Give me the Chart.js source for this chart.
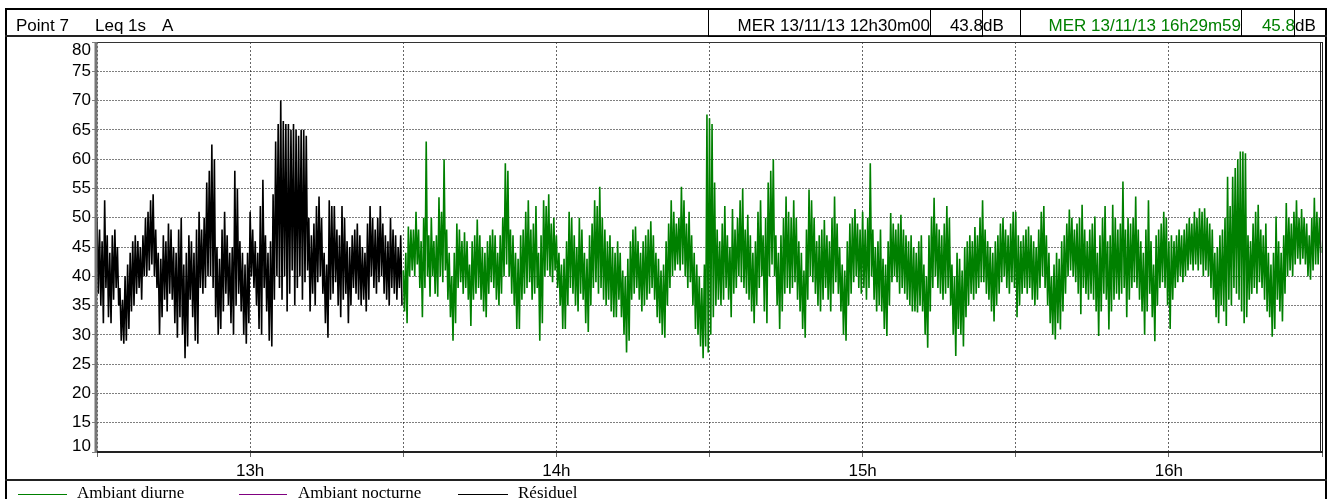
<!DOCTYPE html>
<html><head><meta charset="utf-8">
<script src="https://cdn.jsdelivr.net/npm/chart.js@4.4.1/dist/chart.umd.min.js"></script>
<style>
html,body{margin:0;padding:0;background:#fff;}
body{width:1330px;height:499px;overflow:hidden;position:relative;font-family:"Liberation Sans",Arial,sans-serif;}
#c{position:absolute;left:0;top:0;}
.frame{position:absolute;left:5px;top:8px;width:1322px;height:520px;border:2px solid #000;box-sizing:border-box;}
.hline{position:absolute;left:5px;width:1322px;height:2px;background:#222;}
.box{position:absolute;top:9px;height:28px;border:1px solid #000;box-sizing:border-box;}
.t{position:absolute;top:17px;font-size:17px;line-height:17px;white-space:pre;color:#000;}
.r{text-align:right;}
.g{color:#008000;}
.leg{position:absolute;top:484px;font-family:"Liberation Serif","Times New Roman",serif;font-size:17px;line-height:17px;white-space:pre;}
.lline{position:absolute;top:494px;height:1px;}
</style></head>
<body>
<canvas id="c" width="1330" height="499"></canvas>
<div class="frame"></div>
<div class="hline" style="top:35px"></div>
<div class="hline" style="top:479px"></div>
<div class="t" style="left:16px">Point 7</div>
<div class="t" style="left:95px">Leq 1s</div>
<div class="t" style="left:162px">A</div>
<div class="box" style="left:708px;width:223px"></div>
<div class="box" style="left:930px;width:53px"></div>
<div class="box" style="left:1020px;width:222px"></div>
<div class="box" style="left:1241px;width:54px"></div>
<div class="t r" style="left:700px;width:230px">MER 13/11/13 12h30m00</div>
<div class="t r" style="left:900px;width:83px">43.8</div>
<div class="t" style="left:983px">dB</div>
<div class="t r g" style="left:1000px;width:241px">MER 13/11/13 16h29m59</div>
<div class="t r g" style="left:1200px;width:95px">45.8</div>
<div class="t" style="left:1295px">dB</div>
<div class="lline" style="left:18px;width:49px;background:#008000"></div>
<div class="leg" style="left:77px">Ambiant diurne</div>
<div class="lline" style="left:239px;width:48px;background:#800080"></div>
<div class="leg" style="left:298px">Ambiant nocturne</div>
<div class="lline" style="left:458px;width:50px;background:#000"></div>
<div class="leg" style="left:518px">Résiduel</div>
<script>
// Time axis in minutes after 12h30m00. Each series gives, per 30-second window,
// the highest and the lowest 1-s Leq.
const WINDOW_MIN = 0.5;
const residuelStart = 0;   // 12h30m00
const diurneStart = 60;    // 13h30m00
const hourTickValues = [30, 90, 150, 210];
const hourTickLabels = ['13h', '14h', '15h', '16h'];
const yMin = 10, yMax = 80, yStep = 5;

const residuelMax = [
50,48,46,53,47,44,47,48,45,38,36,40,42,44,46,47,46,45,47,50,
51,53,54,48,44,43,47,46,49,48,45,44,48,50,42,44,47,46,44,48,
51,48,50,56,58,62.5,60,45,43,48,51,47,44,45,58,55,46,44,42,44,
51,48,46,44,52,56.5,47,44,46,54,63,66,70,66.5,66,66,65,66,65,64,
65,65,64,50,47,49,52,53.6,50,44,42,53,52,52,48,47,52,50,46,45,
47,48,49,47,45,44,49,52,50,48,50,52,49,47,46,50,48,47,45,47
];
const residuelMin = [
37,35,32,38,33,32,36,38,35,29,28.5,29,31,34,35,37,38,36,40,40,
41,42,40,38,30,33,36,34,37,36,32,29.5,33,30,26,28,36,33,29,28.5,
38,37,38,40,40,38,33,30,31,34,37,35,32,30,35,37,34,30,28.5,32,
40,38,35,31,30,38,34,29,28,36,40,38,36,40,34,37,41,35,38,40,
36,39,41,34,37,35,39,40,37,32,29.5,36,37,39,35,33,36,37,32,35,
38,37,36,35,36,34,36,40,38,37,39,40,37,36,35,38,37,36,38,35
];

const diurneMax = [
41,44,48.5,48,48,51,48,46,50,63,47,50,46,47,53.5,51,60,48,44,40,
44,49,48,46,47.5,46,42,46,47,49.7,47,45,44,46,47,48,47,44,47,50,
59.3,58,48,47,44,43,47,48,51,53,48,49,52,44,47,53,52,54,49,50,
47,44,42,43,46,51,50,47,45,50,48,44,43,47,49,53,52,55.3,50,48,
46,47,45,44,46,44,41,40,43,46,48,48.5,46,44,46,47,48,49.4,47,44,
43,41,42,46,49,53,51,49,50,55.3,53,49,51,47,44,42,40,38,42,67.6,
67,66,56,48,46,49,52,47,45,51.5,48,50,53,55,48,50.5,47,44,46,51,
53,47,50,56,58,60,47,44,47,50,53.6,51,50,53,50,46,44,41,48,54.8,
53,50,46,47,48,49.6,47,46,50,53.6,49,45,42,41,46,49,50,51.5,49,48,
51,48,50,59.3,48,45,46,48,43,42,46,50.8,49,48,49,50.5,48,47,46,47,
45,44,46,47,42,40,47,50.2,53.4,49,48,47,49,52,50,42,40,44,43,41,
45,46,47,46,48.4,47,50,53,48,46,45,44,46,47,49,50,48,47,49,51,
51,47,46,47,48,48.5,47,46,45,48,51,52,47,44,40,42,44,43,46,47,
49,51.4,50,48,49,50,52.2,48,46,48,49,50.2,44,47,50,52,46,47,52.2,50,
48,49,56.2,48,50,49,50,53.6,48,46,44,48,53,46,42,47,48,49,51,50,
46,47,46,47,48,47,48,49,50,49,51,50,51.6,51,51.6,50,49,48,44,45,
47,48,50,57,52,57,58.5,60,61.3,61.3,61,47,46,49,51,52.2,48,47,49,44,
42,44,50.2,46,44,47,52.5,50,49,51,53,50,51.5,50,49,47,50,53.4,51,50
];
const diurneMin = [
34,32,40,41,40,42,38,33,38,40,36.5,40,37,36.5,40,39,41,36,33,29,
32,38,39,37,38,36,31.5,36,37,38,36,34,33,37,39,38,36,35,37,40,
42,40,37,35,31,31,36,37,38,39,36,37,38,29,32,40,41,40,39,41,
38,35,31,31,35,38,37,35,34,37,36,32,30.5,35,38,39,37,38,36,35,
36,34,33,33,36,33,30,27,29,36,37,38,36,34,35,36,37,38,36,33,
32,30,29.5,35,38,40,41,42,41,42,40,38,39,35,31,30,28,26,28,27,
30,33,35,36,35,36,38,36,33,37,38,40,39,38,37,36,34,32,35,38,
40,34,32,40,42,40,35,31,34,37,38,37,38,39,36,34,31,29.5,36,40,
39,37,35,34,36,38,36,34,37,39,37,34,30,29,35,37,39,40,38,37,
38,36,38,40,36,34,35,34,31,29.8,35,39,40,39,37,38,37,36,35,34,
34,33.8,35,34,30,27.8,34,38,40,38,37,36,37,38,35,30,26.4,31,30,28,
33,35,37,36,37,38,39,39,37,36,34,32.3,35,37,39,40,38,37,39,38,
33,35,37,38,37,38,36,35,36,38,40,38,35,32,30,29.2,32,30.9,34,37,
40,41,40,39,37,33.5,38,37,36,37,36,34,29.8,34,37,36,30.9,34,36,37,
36,37,38,33,36,38,39,38,36,34,30,34,37,33,28.9,35,38,39,38,35,
31,36,38,39,40,39,40,41,42,41,42,41,42,40,41,40,38,36,33,32,
35,34,31.5,36,35,38,37,36,34,32,33,36,37,38,37,39,38,36,34,33,
29.7,31,36,34,32.3,37,40,41,40,42,43,42,43,42,40,39.4,41,42,42,44
];

const nocturne = [];

// each window becomes two points: its maximum, then its minimum
function toPoints(start, hi, lo) {
  const pts = [];
  hi.forEach((v, k) => {
    pts.push({x: start + k * WINDOW_MIN, y: v});
    pts.push({x: start + k * WINDOW_MIN + WINDOW_MIN / 2, y: lo[k]});
  });
  return pts;
}

const TICK_FONT = {family: '"Liberation Sans", Arial, sans-serif', size: 17};

const frame = {
  id: 'frame',
  afterDraw(chart) {
    const {ctx, chartArea: a} = chart;
    const ys = chart.scales.y;
    ctx.save();
    ctx.strokeStyle = '#333'; ctx.lineWidth = 1;
    ctx.beginPath(); ctx.moveTo(a.left, a.top + 0.5); ctx.lineTo(a.right, a.top + 0.5); ctx.stroke();
    ctx.strokeStyle = '#777'; ctx.lineWidth = 3;
    ctx.beginPath(); ctx.moveTo(a.left - 1, a.top); ctx.lineTo(a.left - 1, a.bottom); ctx.stroke();
    ctx.strokeStyle = '#222'; ctx.lineWidth = 2;
    ctx.beginPath(); ctx.moveTo(a.left, a.bottom); ctx.lineTo(a.right + 1, a.bottom); ctx.stroke();
    ctx.lineWidth = 1;
    ctx.beginPath(); ctx.moveTo(a.right - 1.5, a.top); ctx.lineTo(a.right - 1.5, a.bottom); ctx.stroke();
    ctx.beginPath(); ctx.moveTo(a.right + 0.5, a.top); ctx.lineTo(a.right + 0.5, a.bottom); ctx.stroke();
    // end labels of the y axis sit inside the plot height
    ctx.fillStyle = '#000';
    ctx.font = '17px "Liberation Sans", Arial, sans-serif';
    ctx.textAlign = 'right'; ctx.textBaseline = 'middle';
    const lx = ys.right - 6;
    ctx.fillText(String(yMax), lx, ys.getPixelForValue(yMax) + 8);
    ctx.fillText(String(yMin), lx, ys.getPixelForValue(yMin) - 6);
    ctx.restore();
  }
};

new Chart(document.getElementById('c'), {
  type: 'line',
  data: {
    datasets: [
      {label: 'Ambiant diurne', data: toPoints(diurneStart, diurneMax, diurneMin), borderColor: '#008000', borderWidth: 1.6},
      {label: 'Ambiant nocturne', data: nocturne, borderColor: '#800080', borderWidth: 1.6},
      {label: 'Résiduel', data: toPoints(residuelStart, residuelMax, residuelMin), borderColor: '#000000', borderWidth: 1.6}
    ]
  },
  options: {
    responsive: false,
    animation: false,
    events: [],
    layout: {padding: {left: 0, top: 42, right: 8, bottom: 17}},
    elements: {point: {radius: 0}, line: {tension: 0}},
    plugins: {legend: {display: false}, tooltip: {enabled: false}},
    scales: {
      x: {
        type: 'linear', min: 0, max: 240,
        afterFit(s) { s.height = 30; },
        afterBuildTicks(s) { s.ticks = [0,30,60,90,120,150,180,210,240].map(v => ({value: v})); },
        ticks: {
          autoSkip: false, maxRotation: 0, padding: 4, color: '#000', font: TICK_FONT,
          callback: (v) => { const k = hourTickValues.indexOf(v); return k >= 0 ? hourTickLabels[k] : ''; }
        },
        grid: {color: 'rgba(0,0,0,0.6)', lineWidth: 1, tickLength: 5},
        border: {display: false, dash: [2, 2]}
      },
      y: {
        min: yMin, max: yMax,
        afterFit(s) { s.width = 97; },
        ticks: {
          stepSize: yStep, padding: 1, color: '#000', font: TICK_FONT,
          callback: (v) => (v === yMax || v === yMin) ? '' : String(v)
        },
        grid: {color: 'rgba(0,0,0,0.5)', lineWidth: 1, tickLength: 5},
        border: {display: false, dash: [2, 1]}
      }
    }
  },
  plugins: [frame]
});
</script>
</body></html>
